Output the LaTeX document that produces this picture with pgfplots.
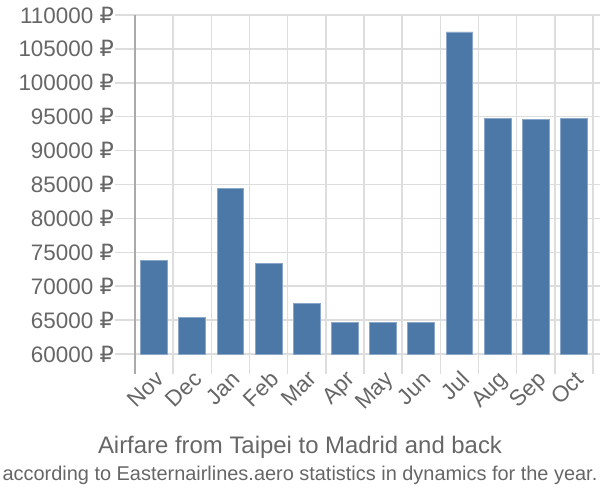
\documentclass[border=0pt]{standalone}
\usepackage{pgfplots}
\pgfplotsset{compat=1.18}
\usepackage{fontspec}
\setmainfont{Liberation Sans}
\newfontfamily\rub{DejaVu Sans}
\newcommand{\R}{{\rub ₽}}
\definecolor{txt}{HTML}{666666}
\definecolor{gridc}{HTML}{DDDDDD}
\definecolor{axc}{HTML}{AAAAAA}
\definecolor{barc}{HTML}{4C78A8}
\definecolor{bare}{HTML}{8AA6C8}
\begin{document}
\begin{tikzpicture}
\useasboundingbox (0,0) rectangle (600bp,500bp);
\begin{axis}[
  at={(135bp,146bp)}, anchor=south west,
  scale only axis, width=458bp, height=339bp,
  xmin=-0.5, xmax=11.5, ymin=60000, ymax=110000,
  scaled y ticks=false,
  axis line style={draw=none},
  xtick={0,...,11},
  xticklabels={Nov,Dec,Jan,Feb,Mar,Apr,May,Jun,Jul,Aug,Sep,Oct},
  minor xtick={-0.5,0.5,...,11.5},
  xminorgrids=true,
  minor grid style={gridc, line width=1.5bp},
  major grid style={gridc, line width=1.5bp},
  ymajorgrids=true,
  ytick={60000,65000,...,110000},
  yticklabels={60000 \R,65000 \R,70000 \R,75000 \R,80000 \R,85000 \R,90000 \R,95000 \R,100000 \R,105000 \R,110000 \R},
  tick align=outside,
  x tick style={draw=none},
  y tick style={gridc, line width=1.5bp},
  major tick length=20bp,
  yticklabel style={font=\fontsize{22.5}{26}\selectfont, text=txt, inner sep=1bp},
  xticklabel style={font=\fontsize{22.5}{26}\selectfont, text=txt, rotate=45, anchor=north east, inner sep=1bp},
  xticklabel shift=-6bp,
  clip=false,
]
\addplot[ybar, bar width=0.7, fill=barc, draw=bare, line width=0.8bp] coordinates {
(0,73800) (1,65400) (2,84400) (3,73400) (4,67500) (5,64600)
(6,64600) (7,64600) (8,107500) (9,94800) (10,94600) (11,94800)};
\end{axis}
\foreach \k in {1,...,12} \draw[gridc, line width=1.5bp] (135bp+38.1667bp*\k,146bp) -- ++(0,-20bp);
\draw[axc, line width=2bp] (135bp,485bp) -- (135bp,126bp);
\node[text=txt, font=\fontsize{24}{28}\selectfont] at (300bp,53bp) {Airfare from Taipei to Madrid and back};
\node[text=txt, font=\fontsize{20}{24}\selectfont] at (300bp,25bp) {according to Easternairlines.aero statistics in dynamics for the year.};
\end{tikzpicture}
\end{document}
